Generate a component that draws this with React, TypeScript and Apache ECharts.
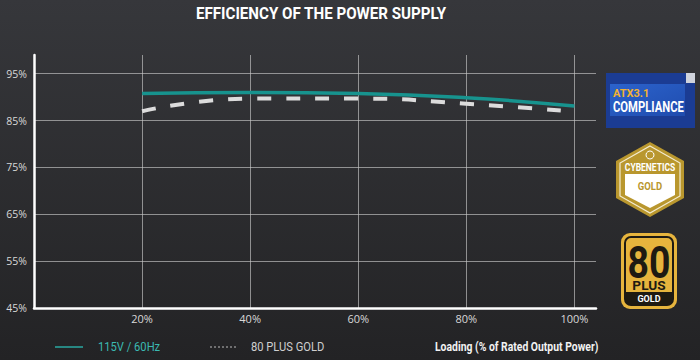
import React, { useEffect, useRef } from "react";
import * as echarts from "echarts";

const loadLevels = [20, 40, 60, 80, 100];
const eff115V = [90.8, 91.0, 90.8, 89.9, 88.1];
const eff80PlusGold = [87.0, 89.7, 89.7, 88.6, 86.9];
const seriesNames = ["115V / 60Hz", "80 PLUS GOLD"];
const titleText = "EFFICIENCY OF THE POWER SUPPLY";
const xAxisTitle = "Loading (% of Rated Output Power)";

const RB = "Roboto, sans-serif";

export default function App() {
  const ref = useRef<HTMLDivElement>(null);
  useEffect(() => {
    if (!ref.current) return;
    const chart = echarts.init(ref.current, null, { renderer: "svg" });
    const gold = "#b9972e";
    const option: any = {
      animation: false,
      backgroundColor: {
        type: "linear", x: 0, y: 0, x2: 0, y2: 1,
        colorStops: [
          { offset: 0, color: "#36373b" },
          { offset: 1, color: "#232325" },
        ],
      },
      grid: { left: 34, right: 104, top: 55, bottom: 52 },
      xAxis: {
        type: "value",
        min: 0,
        max: 104,
        interval: 20,
        axisLine: { show: true, lineStyle: { color: "#ffffff", width: 2.5 } },
        axisTick: { show: false },
        axisLabel: {
          color: "#d8d8d8",
          fontSize: 11,
          fontFamily: "'Open Sans', sans-serif",
          margin: 5,
          formatter: (v: number) => (v === 0 || v > 100 ? "" : v + "%"),
        },
        splitLine: {
          show: true,
          showMinLine: false,
          showMaxLine: false,
          lineStyle: { color: "rgba(200,200,200,0.65)", width: 1 },
        },
      },
      yAxis: {
        type: "value",
        min: 45,
        max: 99,
        interval: 10,
        axisLine: { show: true, lineStyle: { color: "#ffffff", width: 2.5 } },
        axisTick: { show: false },
        axisLabel: {
          color: "#d8d8d8",
          fontSize: 10.5,
          fontFamily: "'Open Sans', sans-serif",
          margin: 7,
          formatter: (v: number) => (v > 95 ? "" : v + "%"),
        },
        splitLine: {
          show: true,
          showMinLine: false,
          showMaxLine: false,
          lineStyle: { color: "rgba(200,200,200,0.65)", width: 1 },
        },
      },
      series: [
        {
          name: seriesNames[1],
          type: "line",
          smooth: true,
          symbol: "none",
          data: loadLevels.map((x, i) => [x, eff80PlusGold[i]]),
          lineStyle: { color: "#dcdcdc", width: 4, type: [14, 15] },
          z: 2,
        },
        {
          name: seriesNames[0],
          type: "line",
          smooth: true,
          symbol: "none",
          data: loadLevels.map((x, i) => [x, eff115V[i]]),
          lineStyle: { color: "#17938e", width: 3.5 },
          z: 3,
        },
      ],
      graphic: [
        // title
        { type: "text", x: 196, y: 13, scaleX: 0.89, style: { text: titleText, fill: "#ffffff", font: "bold 17px " + RB, verticalAlign: "middle" } },
        // legend
        { type: "line", shape: { x1: 55, y1: 347, x2: 83, y2: 347 }, style: { stroke: "#2aa9a2", lineWidth: 1.5 } },
        { type: "text", x: 98, y: 347, scaleX: 0.86, style: { text: seriesNames[0], fill: "#3bb9b1", font: "13px " + RB, verticalAlign: "middle" } },
        { type: "line", shape: { x1: 210, y1: 347, x2: 238, y2: 347 }, style: { stroke: "#bbbbbb", lineWidth: 1, lineDash: [2, 2] } },
        { type: "text", x: 251, y: 347, scaleX: 0.86, style: { text: seriesNames[1], fill: "#cfcfcf", font: "13px " + RB, verticalAlign: "middle" } },
        { type: "text", x: 435, y: 347, scaleX: 0.8, style: { text: xAxisTitle, fill: "#f2f2f2", font: "bold 13px " + RB, verticalAlign: "middle" } },
        // ATX 3.1 badge
        { type: "rect", shape: { x: 606, y: 73, width: 89, height: 55 }, style: { fill: "#1b3c93" } },
        {
          type: "rect", shape: { x: 610, y: 84, width: 75, height: 32 },
          style: {
            fill: {
              type: "linear", x: 0, y: 0, x2: 1, y2: 1,
              colorStops: [{ offset: 0, color: "#2c63cc" }, { offset: 1, color: "#1f4cae" }],
            },
          },
        },
        { type: "rect", shape: { x: 686, y: 73, width: 9, height: 10 }, style: { fill: "#cfd3dc" } },
        { type: "text", x: 613, y: 93, scaleX: 1, style: { text: "ATX3.1", fill: "#f2b233", font: "bold 11px " + RB, verticalAlign: "middle" } },
        { type: "text", x: 613, y: 107, scaleX: 0.75, style: { text: "COMPLIANCE", fill: "#ffffff", font: "bold 15px " + RB, verticalAlign: "middle" } },
        // Cybenetics badge
        {
          type: "polygon",
          shape: { points: [[650, 142], [684, 161], [684, 198], [650, 217], [616, 198], [616, 161]] },
          style: { fill: gold },
        },
        {
          type: "polygon",
          shape: { points: [[650, 146], [680, 163], [680, 196], [650, 213], [620, 196], [620, 163]] },
          style: { fill: "none", stroke: "#f4ecd2", lineWidth: 1.2 },
        },
        {
          type: "polygon",
          shape: { points: [[625, 174], [675, 174], [675, 195], [650, 208], [625, 195]] },
          style: { fill: "#ffffff" },
        },
        { type: "circle", shape: { cx: 650, cy: 155, r: 4 }, style: { fill: "none", stroke: "#ffffff", lineWidth: 1 } },
        { type: "text", x: 650, y: 167, scaleX: 0.85, style: { text: "CYBENETICS", fill: "#ffffff", font: "bold 10px " + RB, align: "center", verticalAlign: "middle" } },
        { type: "text", x: 650, y: 186, scaleX: 0.95, style: { text: "GOLD", fill: gold, font: "bold 10px " + RB, align: "center", verticalAlign: "middle" } },
        // 80 PLUS Gold badge
        { type: "rect", shape: { x: 621, y: 233, width: 56, height: 76, r: 9 }, style: { fill: "#e6b43d" } },
        { type: "rect", shape: { x: 625, y: 237, width: 48, height: 68, r: 6 }, style: { fill: "#e6b43d", stroke: "#1e1a12", lineWidth: 2 } },
        {
          type: "rect", shape: { x: 625, y: 292, width: 48, height: 13, r: [0, 0, 6, 6] },
          style: { fill: "#1e1a12" },
        },
        { type: "text", x: 649, y: 263, scaleX: 0.85, style: { text: "80", fill: "#1e1a12", font: "bold 44px " + RB, lineHeight: 30, align: "center", verticalAlign: "middle" } },
        { type: "text", x: 649, y: 286, scaleX: 1.05, style: { text: "PLUS", fill: "#1e1a12", font: "bold 13px " + RB, lineHeight: 10, align: "center", verticalAlign: "middle" } },
        { type: "text", x: 649, y: 299, scaleX: 1, style: { text: "GOLD", fill: "#ffffff", font: "bold 9px " + RB, lineHeight: 9, align: "center", verticalAlign: "middle" } },
      ],
    };
    chart.setOption(option);
    return () => chart.dispose();
  }, []);
  return <div ref={ref} style={{ width: 700, height: 360, position: "absolute", left: 0, top: 0 }} />;
}
